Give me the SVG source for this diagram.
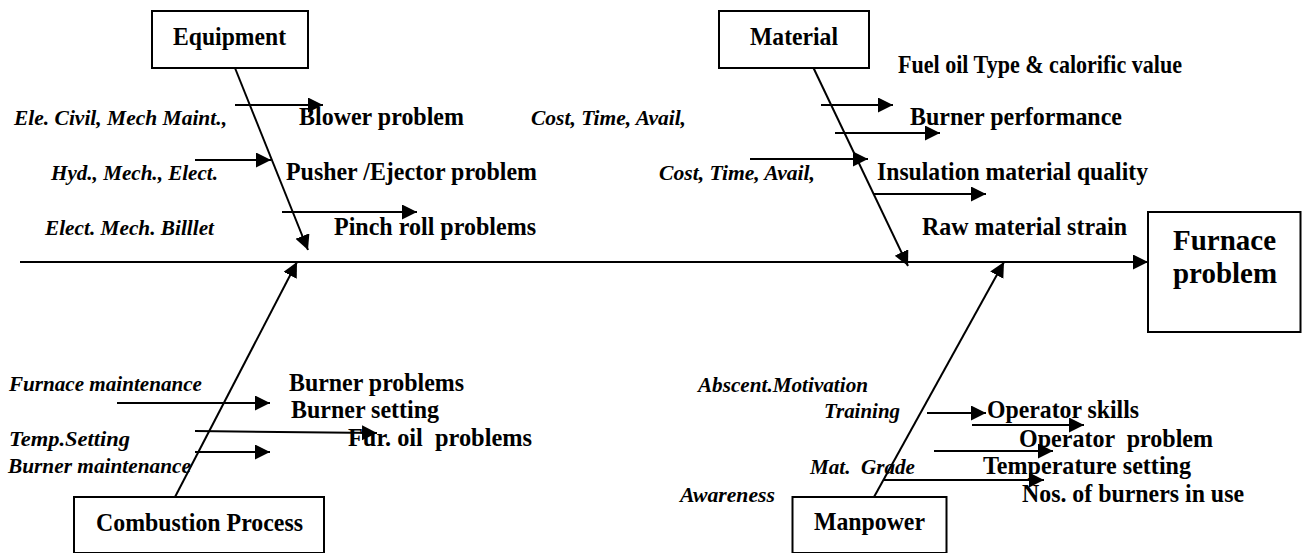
<svg xmlns="http://www.w3.org/2000/svg" width="1302" height="553" viewBox="0 0 1302 553">
<defs>
<marker id="ah" markerUnits="userSpaceOnUse" markerWidth="16" markerHeight="16" refX="15" refY="7.5" orient="auto">
<path d="M0,0 L15,7.5 L0,15 z" fill="#000"/>
</marker>
<style>
.box{fill:#fff;stroke:#000;stroke-width:2}
.ar{stroke:#000;stroke-width:2;fill:none;marker-end:url(#ah)}
.b{font-family:'Liberation Serif','Times New Roman',serif;font-weight:bold;font-size:24.5px;fill:#000}
.i{font-family:'Liberation Serif','Times New Roman',serif;font-weight:bold;font-style:italic;font-size:21.5px;fill:#000}
.big{font-family:'Liberation Serif','Times New Roman',serif;font-weight:bold;font-size:29px;fill:#000}
</style>
</defs>
<rect width="1302" height="553" fill="#fff"/>

<g id="connectors">
<line class="ar" x1="20" y1="262" x2="1148" y2="262"/>
<line class="ar" x1="235" y1="68" x2="308" y2="250"/>
<line class="ar" x1="813.5" y1="68" x2="908" y2="266"/>
<line class="ar" x1="175" y1="497" x2="297" y2="262"/>
<line class="ar" x1="874" y1="497" x2="1004" y2="262"/>
<line class="ar" x1="235" y1="105" x2="323" y2="105"/>
<line class="ar" x1="195" y1="160" x2="271" y2="160"/>
<line class="ar" x1="282" y1="212" x2="417" y2="212"/>
<line class="ar" x1="821" y1="105" x2="893" y2="105"/>
<line class="ar" x1="835" y1="133" x2="940" y2="133"/>
<line class="ar" x1="750" y1="159" x2="868" y2="159"/>
<line class="ar" x1="874" y1="194" x2="986" y2="194"/>
<line class="ar" x1="117" y1="403" x2="270" y2="403"/>
<line class="ar" x1="195" y1="431" x2="377" y2="433"/>
<line class="ar" x1="195" y1="452" x2="270" y2="452"/>
<line class="ar" x1="927" y1="413" x2="986" y2="413"/>
<line class="ar" x1="972" y1="425" x2="1084" y2="425"/>
<line class="ar" x1="934" y1="451" x2="1053" y2="451"/>
<line class="ar" x1="884" y1="480" x2="1044" y2="480"/>
</g>

<g id="equipment">
<rect class="box" x="152" y="11" width="156" height="57"/>
<text class="b" x="173" y="45" textLength="113" lengthAdjust="spacingAndGlyphs">Equipment</text>
</g>
<g id="material">
<rect class="box" x="719" y="11" width="150" height="57"/>
<text class="b" x="750" y="45" textLength="88" lengthAdjust="spacingAndGlyphs">Material</text>
</g>
<g id="combustion">
<rect class="box" x="74" y="497" width="250" height="56"/>
<text class="b" x="96" y="531" textLength="207" lengthAdjust="spacingAndGlyphs">Combustion Process</text>
</g>
<g id="manpower">
<rect class="box" x="792.5" y="497" width="154" height="56"/>
<text class="b" x="814" y="530" textLength="111" lengthAdjust="spacingAndGlyphs">Manpower</text>
</g>
<g id="furnace">
<rect class="box" x="1148" y="212" width="152.5" height="120"/>
<text class="big" x="1173" y="250" textLength="103" lengthAdjust="spacingAndGlyphs">Furnace</text>
<text class="big" x="1173" y="283" textLength="104" lengthAdjust="spacingAndGlyphs">problem</text>
</g>

<g id="equipment-causes">
<text class="i" x="14" y="125" textLength="213" lengthAdjust="spacingAndGlyphs">Ele. Civil, Mech Maint.,</text>
<text class="b" x="299" y="125" textLength="165" lengthAdjust="spacingAndGlyphs">Blower problem</text>
<text class="i" x="51" y="180" textLength="167" lengthAdjust="spacingAndGlyphs">Hyd., Mech., Elect.</text>
<text class="b" x="286" y="180" textLength="251" lengthAdjust="spacingAndGlyphs">Pusher /Ejector problem</text>
<text class="i" x="45" y="235" textLength="169" lengthAdjust="spacingAndGlyphs">Elect. Mech. Billlet</text>
<text class="b" x="334" y="235" textLength="202" lengthAdjust="spacingAndGlyphs">Pinch roll problems</text>
</g>

<g id="material-causes">
<text class="b" x="898" y="73" textLength="284" lengthAdjust="spacingAndGlyphs">Fuel oil Type &amp; calorific value</text>
<text class="i" x="531" y="125" textLength="155" lengthAdjust="spacingAndGlyphs">Cost, Time, Avail,</text>
<text class="b" x="910" y="125" textLength="212" lengthAdjust="spacingAndGlyphs">Burner performance</text>
<text class="i" x="659" y="180" textLength="156" lengthAdjust="spacingAndGlyphs">Cost, Time, Avail,</text>
<text class="b" x="877" y="180" textLength="271" lengthAdjust="spacingAndGlyphs">Insulation material quality</text>
<text class="b" x="922" y="235" textLength="205" lengthAdjust="spacingAndGlyphs">Raw material strain</text>
</g>

<g id="combustion-causes">
<text class="i" x="9" y="391" textLength="193" lengthAdjust="spacingAndGlyphs">Furnace maintenance</text>
<text class="b" x="289" y="391" textLength="175" lengthAdjust="spacingAndGlyphs">Burner problems</text>
<text class="b" x="291" y="418" textLength="148" lengthAdjust="spacingAndGlyphs">Burner setting</text>
<text class="i" x="9" y="446" textLength="121" lengthAdjust="spacingAndGlyphs">Temp.Setting</text>
<text class="b" x="348" y="446" textLength="184" lengthAdjust="spacingAndGlyphs" xml:space="preserve">Fur. oil  problems</text>
<text class="i" x="8" y="473" textLength="183" lengthAdjust="spacingAndGlyphs">Burner maintenance</text>
</g>

<g id="manpower-causes">
<text class="i" x="698" y="392" textLength="170" lengthAdjust="spacingAndGlyphs">Abscent.Motivation</text>
<text class="i" x="824" y="418" textLength="76" lengthAdjust="spacingAndGlyphs">Training</text>
<text class="b" x="987" y="418" textLength="152" lengthAdjust="spacingAndGlyphs">Operator skills</text>
<text class="b" x="1019" y="447" textLength="194" lengthAdjust="spacingAndGlyphs" xml:space="preserve">Operator  problem</text>
<text class="i" x="810" y="474" textLength="105" lengthAdjust="spacingAndGlyphs" xml:space="preserve">Mat.  Grade</text>
<text class="b" x="983" y="474" textLength="208" lengthAdjust="spacingAndGlyphs">Temperature setting</text>
<text class="i" x="680" y="502" textLength="95" lengthAdjust="spacingAndGlyphs">Awareness</text>
<text class="b" x="1022" y="502" textLength="222" lengthAdjust="spacingAndGlyphs">Nos. of burners in use</text>
</g>
</svg>
